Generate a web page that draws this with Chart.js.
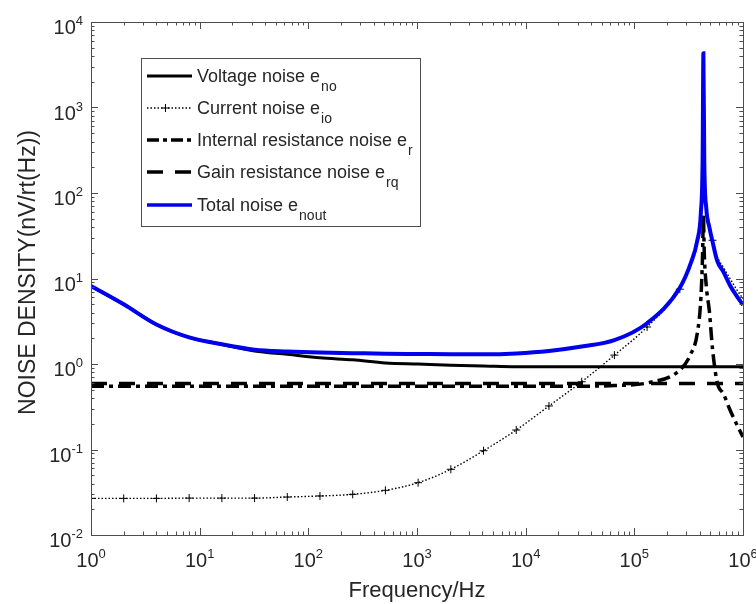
<!DOCTYPE html>
<html>
<head>
<meta charset="utf-8">
<script src="https://cdn.jsdelivr.net/npm/chart.js@4.4.1/dist/chart.umd.min.js"></script>
<style>
  html, body { margin: 0; padding: 0; background: #fff; }
  #wrap { width: 756px; height: 604px; }
</style>
</head>
<body>
<div id="wrap"><canvas id="myChart" width="756" height="604"></canvas></div>
<script>
// frequencies in Hz (powers of 2, then extra points around the resonance)
const freq = [1, 2, 4, 8, 16, 32, 64, 128, 256, 512, 1024, 2048, 4096, 8192, 16384, 32768, 65536, 131072, 262144,
  330000, 380000, 410000, 425000, 432000, 440000, 460000, 490000, 524288, 580000, 660000, 760000, 870000, 1000000];

// noise density, nV/rt(Hz)
const voltageNoise = [8.15, 5.0, 2.9, 2.05, 1.7, 1.42, 1.3, 1.18, 1.12, 1.03, 1.0, 0.97, 0.95, 0.93, 0.93, 0.93, 0.93, 0.93, 0.93,
  0.93, 0.93, 0.93, 0.93, 0.93, 0.93, 0.93, 0.93, 0.93, 0.93, 0.93, 0.93, 0.93, 0.93];
const currentNoise = [0.0268, 0.0268, 0.0268, 0.027, 0.027, 0.027, 0.0278, 0.0286, 0.0299, 0.0333, 0.0409, 0.0587, 0.0968, 0.169, 0.323, 0.62, 1.27, 2.71, 7.5,
  14, 26, 55, 230, 4000, 240, 70, 45, 28, 18, 13.5, 10, 7.5, 5.8];
const internalResNoise = [0.55, 0.55, 0.55, 0.55, 0.55, 0.55, 0.55, 0.55, 0.55, 0.55, 0.55, 0.55, 0.55, 0.55, 0.55, 0.55, 0.56, 0.6, 0.85,
  1.3, 2.3, 6, 20, 55, 20, 8, 4.2, 1.5, 0.6, 0.45, 0.29, 0.2, 0.14];
const gainResNoise = [0.59, 0.59, 0.59, 0.59, 0.59, 0.59, 0.59, 0.59, 0.59, 0.59, 0.59, 0.59, 0.59, 0.59, 0.59, 0.59, 0.59, 0.59, 0.59,
  0.59, 0.59, 0.59, 0.59, 0.59, 0.59, 0.59, 0.59, 0.59, 0.59, 0.59, 0.59, 0.59, 0.59];
const totalNoise = [8.2, 5.0, 2.9, 2.05, 1.7, 1.47, 1.4, 1.36, 1.34, 1.32, 1.31, 1.3, 1.3, 1.33, 1.42, 1.6, 1.9, 3.0, 7.8,
  15, 28, 60, 250, 4300, 250, 65, 40, 27, 16, 12, 8.3, 6.3, 4.9];

// axis tick exponents
const xTickExp = [0, 1, 2, 3, 4, 5, 6];
const yTickExp = [-2, -1, 0, 1, 2, 3, 4];

// legend texts: [main, subscript]
const legendTexts = [
  ['Voltage noise e', 'no'],
  ['Current noise e', 'io'],
  ['Internal resistance noise e', 'r'],
  ['Gain resistance noise e', 'rq'],
  ['Total noise e', 'nout']
];

const FONT = '"Liberation Sans", Arial, sans-serif';
const AXIS_COL = '#4d4d4d';
const TEXT_COL = '#262626';

function pts(ys) {
  return freq.map((f, i) => ({ x: f, y: ys[i] }));
}

// markers only on the powers of 2
const markerRadius = freq.map(f => Math.log2(f) % 1 === 0 ? 4 : 0);

const styles = [
  { color: '#000', width: 3, dash: [] },
  { color: '#000', width: 1.4, dash: [1.5, 2] , marker: true },
  { color: '#000', width: 3.5, dash: [13, 5, 4, 5] },
  { color: '#000', width: 3.5, dash: [16, 12] },
  { color: '#0000ee', width: 4, dash: [] }
];

function drawPow(ctx, exp, x, baseline, align) {
  const base = '10', sup = String(exp);
  ctx.font = '20px ' + FONT;
  const wb = ctx.measureText(base).width;
  ctx.font = '13px ' + FONT;
  const ws = ctx.measureText(sup).width;
  const w = wb + ws;
  let x0 = align === 'center' ? x - w / 2 : x - w;
  ctx.textAlign = 'left';
  ctx.textBaseline = 'alphabetic';
  ctx.font = '20px ' + FONT;
  ctx.fillText(base, x0, baseline);
  ctx.font = '13px ' + FONT;
  ctx.fillText(sup, x0 + wb, baseline - 9);
}

const decor = {
  id: 'decor',
  afterDraw(chart) {
    const ctx = chart.ctx;
    const a = chart.chartArea;
    const xs = chart.scales.x, ys = chart.scales.y;
    ctx.save();
    ctx.strokeStyle = AXIS_COL;
    ctx.lineWidth = 1;

    // ticks inside the box, all four sides
    ctx.beginPath();
    for (let d = 0; d <= 6; d++) {
      for (let k = 1; k <= 9; k++) {
        const v = k * Math.pow(10, d);
        if (v > 1e6) break;
        const px = Math.round(xs.getPixelForValue(v)) + 0.5;
        const len = k === 1 ? 7 : 3.5;
        ctx.moveTo(px, a.bottom); ctx.lineTo(px, a.bottom - len);
        ctx.moveTo(px, a.top); ctx.lineTo(px, a.top + len);
      }
    }
    for (let d = -2; d <= 4; d++) {
      for (let k = 1; k <= 9; k++) {
        const v = k * Math.pow(10, d);
        if (v > 1e4 * 1.0001) break;
        const py = Math.round(ys.getPixelForValue(v)) + 0.5;
        const len = k === 1 ? 7 : 3.5;
        ctx.moveTo(a.left, py); ctx.lineTo(a.left + len, py);
        ctx.moveTo(a.right, py); ctx.lineTo(a.right - len, py);
      }
    }
    ctx.stroke();
    ctx.strokeRect(Math.round(a.left) + 0.5, Math.round(a.top) + 0.5, Math.round(a.right - a.left), Math.round(a.bottom - a.top));

    // tick labels
    ctx.fillStyle = TEXT_COL;
    xTickExp.forEach(e => drawPow(ctx, e, xs.getPixelForValue(Math.pow(10, e)), a.bottom + 32, 'center'));
    yTickExp.forEach(e => drawPow(ctx, e, a.left - 8, ys.getPixelForValue(Math.pow(10, e)) + 12, 'right'));

    // axis titles
    ctx.font = '22px ' + FONT;
    ctx.textAlign = 'center';
    ctx.textBaseline = 'alphabetic';
    ctx.fillText('Frequency/Hz', (a.left + a.right) / 2, 597);
    ctx.save();
    ctx.translate(35, (a.top + a.bottom) / 2 - 6);
    ctx.rotate(-Math.PI / 2);
    ctx.font = '23px ' + FONT;
    ctx.fillText('NOISE DENSITY(nV/rt(Hz))', 0, 0);
    ctx.restore();

    // legend
    const lx = 141, ly = 58, lw = 279, lh = 168;
    ctx.fillStyle = '#fff';
    ctx.fillRect(lx, ly, lw, lh);
    ctx.strokeStyle = AXIS_COL;
    ctx.strokeRect(lx + 0.5, ly + 0.5, lw, lh);
    const rowY = [76, 108, 140, 172, 205];
    legendTexts.forEach((t, i) => {
      const s = styles[i];
      const y = rowY[i];
      ctx.strokeStyle = s.color;
      ctx.lineWidth = Math.min(s.width, 3.5);
      ctx.setLineDash(i === 2 ? [12, 4, 4, 4] : s.dash);
      ctx.beginPath();
      ctx.moveTo(147, y); ctx.lineTo(192, y);
      ctx.stroke();
      ctx.setLineDash([]);
      if (s.marker) {
        ctx.lineWidth = 1;
        ctx.beginPath();
        ctx.moveTo(165.5, y - 4); ctx.lineTo(165.5, y + 4);
        ctx.moveTo(161.5, y); ctx.lineTo(169.5, y);
        ctx.stroke();
      }
      ctx.fillStyle = TEXT_COL;
      ctx.textAlign = 'left';
      ctx.font = '18px ' + FONT;
      ctx.fillText(t[0], 197, y + 6);
      const w = ctx.measureText(t[0]).width;
      ctx.font = '14px ' + FONT;
      ctx.fillText(t[1], 197 + w + 1, y + 15);
    });
    ctx.restore();
  }
};

const datasets = [voltageNoise, currentNoise, internalResNoise, gainResNoise, totalNoise].map((vals, i) => {
  const s = styles[i];
  return {
    label: legendTexts[i].join(''),
    data: pts(vals),
    borderColor: s.color,
    backgroundColor: s.color,
    borderWidth: s.width,
    borderDash: s.dash,
    pointRadius: s.marker ? markerRadius : 0,
    pointStyle: 'cross',
    pointBorderColor: '#000',
    pointBorderWidth: 1,
    pointHoverRadius: 0,
    cubicInterpolationMode: 'monotone',
    fill: false,
    order: i === 4 ? 0 : 5 - i
  };
});

new Chart(document.getElementById('myChart').getContext('2d'), {
  type: 'line',
  data: { datasets },
  options: {
    responsive: false,
    animation: false,
    layout: { padding: { left: 91, right: 13, top: 22, bottom: 69 } },
    plugins: { legend: { display: false }, tooltip: { enabled: false } },
    scales: {
      x: { type: 'logarithmic', min: 1, max: 1e6, display: false },
      y: { type: 'logarithmic', min: 1e-2, max: 1e4, display: false }
    }
  },
  plugins: [decor]
});
</script>
</body>
</html>
